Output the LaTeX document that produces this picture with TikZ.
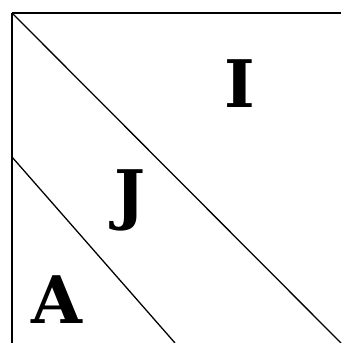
\documentclass[tikz,border=0pt]{standalone}
\usepackage{fontspec}
\setmainfont{DejaVu Serif}
\begin{document}
\begin{tikzpicture}[x=0.03cm, y=-0.03cm, line width=1.1pt]
        \useasboundingbox (0, 0) rectangle (341, 343);
        \tikzset{region/.style={font=\fontsize{56}{60}\selectfont\bfseries, inner sep=0pt}}

        % Frame corners
        \coordinate (tl) at (12, 13);
        \coordinate (tr) at (341, 13);
        \coordinate (bl) at (12, 343);
        \coordinate (br) at (341, 343);
        \coordinate (ml) at (12, 157);
        \coordinate (mb) at (175, 343);

        % Lines
        \draw[line width=1.6pt] (tl) -- (tr);
        \draw (tl) -- (bl);
        \draw (tl) -- (br);
        \draw (ml) -- (mb);

        % Labels
        \node[region] (i) at (240, 84) {I};
        \node[region] (j) at (130, 200) {J};
        \node[region] (a) at (57, 300) {A};
    \end{tikzpicture}
\end{document}
